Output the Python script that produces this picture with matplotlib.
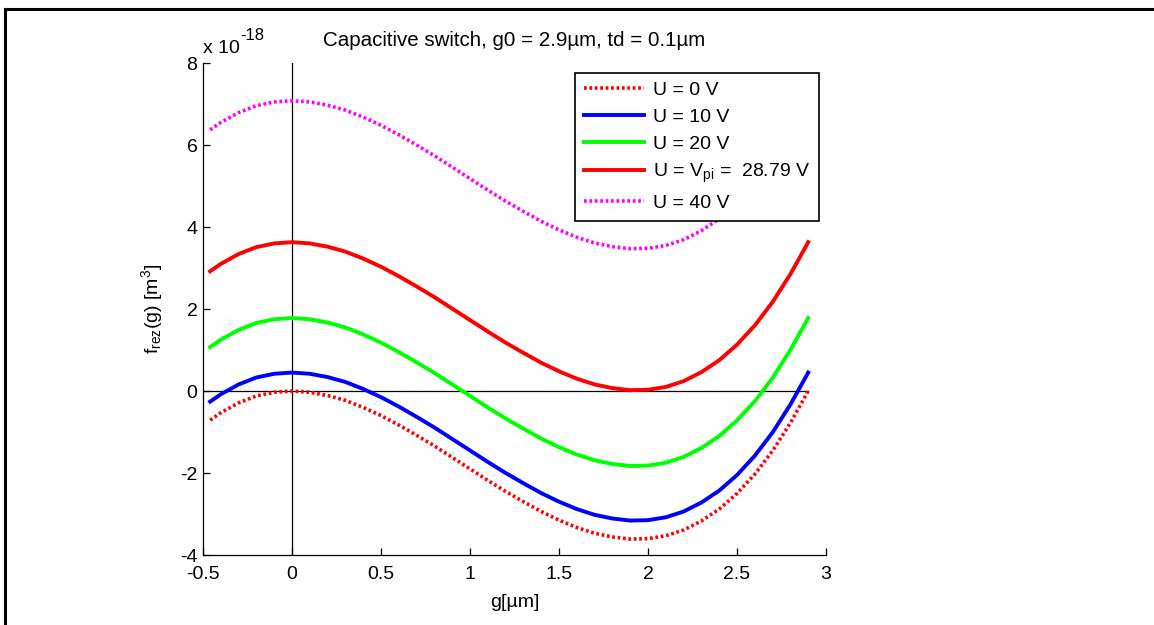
import matplotlib
matplotlib.use("Agg")
import matplotlib.pyplot as plt
from matplotlib.lines import Line2D

plt.rcParams['font.family'] = ['Liberation Sans', 'DejaVu Sans']
plt.rcParams['axes.unicode_minus'] = False
plt.rcParams['mathtext.default'] = 'regular'

# gap g [um] and f_rez(g) [x 1e-18 m^3]
g = [-0.46, -0.4, -0.3, -0.2, -0.1, 0.0, 0.1, 0.2, 0.3, 0.4, 0.5, 0.6,
     0.7, 0.8, 0.9, 1.0, 1.1, 1.2, 1.3, 1.4, 1.5, 1.6, 1.7, 1.8,
     1.9, 2.0, 2.1, 2.2, 2.3, 2.4, 2.5, 2.6, 2.7, 2.8, 2.9]
f_u0 = [-0.71, -0.53, -0.29, -0.12, -0.03, 0.00, -0.03, -0.11, -0.23, -0.40, -0.60, -0.83,
        -1.08, -1.34, -1.62, -1.90, -2.18, -2.45, -2.70, -2.94, -3.15, -3.33, -3.47, -3.56,
        -3.61, -3.60, -3.53, -3.39, -3.17, -2.88, -2.50, -2.03, -1.46, -0.78, 0.00]
f_u10 = [-0.26, -0.08, 0.16, 0.33, 0.42, 0.45, 0.42, 0.34, 0.22, 0.05, -0.15, -0.38,
         -0.63, -0.89, -1.17, -1.45, -1.73, -2.00, -2.25, -2.49, -2.70, -2.88, -3.02, -3.11,
         -3.16, -3.15, -3.08, -2.94, -2.72, -2.43, -2.05, -1.58, -1.01, -0.33, 0.45]
f_u20 = [1.07, 1.25, 1.49, 1.66, 1.75, 1.78, 1.75, 1.67, 1.55, 1.38, 1.18, 0.95,
         0.70, 0.44, 0.16, -0.12, -0.40, -0.67, -0.92, -1.16, -1.37, -1.55, -1.69, -1.78,
         -1.83, -1.82, -1.75, -1.61, -1.39, -1.10, -0.72, -0.25, 0.32, 1.00, 1.78]
f_upi = [2.92, 3.10, 3.34, 3.51, 3.60, 3.63, 3.60, 3.52, 3.40, 3.23, 3.03, 2.80,
         2.55, 2.29, 2.01, 1.73, 1.45, 1.18, 0.93, 0.69, 0.48, 0.30, 0.16, 0.07,
         0.02, 0.03, 0.10, 0.24, 0.46, 0.75, 1.13, 1.60, 2.17, 2.85, 3.63]
f_u40 = [6.37, 6.55, 6.79, 6.96, 7.05, 7.08, 7.05, 6.97, 6.85, 6.68, 6.48, 6.25,
         6.00, 5.74, 5.46, 5.18, 4.90, 4.63, 4.38, 4.14, 3.93, 3.75, 3.61, 3.52,
         3.47, 3.48, 3.55, 3.69, 3.91, 4.20, 4.58, 5.05, 5.62, 6.30, 7.08]

labels = ['U = 0 V', 'U = 10 V', 'U = 20 V', 'U = V$_{pi}$ =  28.79 V', 'U = 40 V']

fig = plt.figure(figsize=(11.54, 6.25), dpi=100)
ax = fig.add_axes([203 / 1154, 1 - 555 / 625, 623 / 1154, 492 / 625])

dots = (0, (0.75, 0.75))
ax.plot(g, f_u0, color=(1, 0, 0), lw=2.6, ls=dots, label=labels[0])
ax.plot(g, f_u10, color=(0, 0, 1), lw=2.8, label=labels[1])
ax.plot(g, f_u20, color=(0, 1, 0), lw=2.8, label=labels[2])
ax.plot(g, f_upi, color=(1, 0, 0), lw=2.8, label=labels[3])
ax.plot(g, f_u40, color=(1, 0, 1), lw=2.6, ls=dots, label=labels[4])

# zero lines
ax.plot([-0.5, g[-1]], [0, 0], color='black', lw=0.9, zorder=1)
ax.axvline(0, color='black', lw=0.9, zorder=1)

ax.set_xlim(-0.5, 3)
ax.set_ylim(-4, 8)
ax.set_xticks([-0.5, 0, 0.5, 1, 1.5, 2, 2.5, 3])
ax.set_xticklabels(['-0.5', '0', '0.5', '1', '1.5', '2', '2.5', '3'])
ax.set_yticks([-4, -2, 0, 2, 4, 6, 8])
ax.spines['top'].set_visible(False)
ax.spines['right'].set_visible(False)
for s in ('left', 'bottom'):
    ax.spines[s].set_linewidth(0.9)
ax.tick_params(direction='in', length=5, width=0.9, labelsize=14)
ax.tick_params(axis='x', pad=8)
ax.tick_params(axis='y', pad=4)

ax.set_title('Capacitive switch, g0 = 2.9µm, td = 0.1µm', fontsize=14.8, pad=12)
ax.set_xlabel('g[µm]', fontsize=14, labelpad=8)
ax.set_ylabel('f$_{rez}$(g) [m$^3$]', fontsize=14, labelpad=11)

ax.text(0.0, 1.012, 'x 10', transform=ax.transAxes, fontsize=14, ha='left', va='bottom')
ax.text(0.060, 1.040, '-18', transform=ax.transAxes, fontsize=12, ha='left', va='bottom')

leg = ax.legend(loc='upper right', bbox_to_anchor=(0.989, 0.980), borderaxespad=0,
                fontsize=14, fancybox=False, framealpha=1, edgecolor='black',
                handlelength=3.1, handletextpad=0.45, labelspacing=0.47, borderpad=0.45)
leg.get_frame().set_linewidth(1.2)

# outer frame (left and top edges only)
fig.add_artist(Line2D([5 / 1154, 5 / 1154], [0, 1 - 9 / 625], transform=fig.transFigure,
                      color='black', lw=2.2))
fig.add_artist(Line2D([5 / 1154, 1], [1 - 9 / 625, 1 - 9 / 625], transform=fig.transFigure,
                      color='black', lw=2.2))

fig.savefig('out.png', dpi=100)
